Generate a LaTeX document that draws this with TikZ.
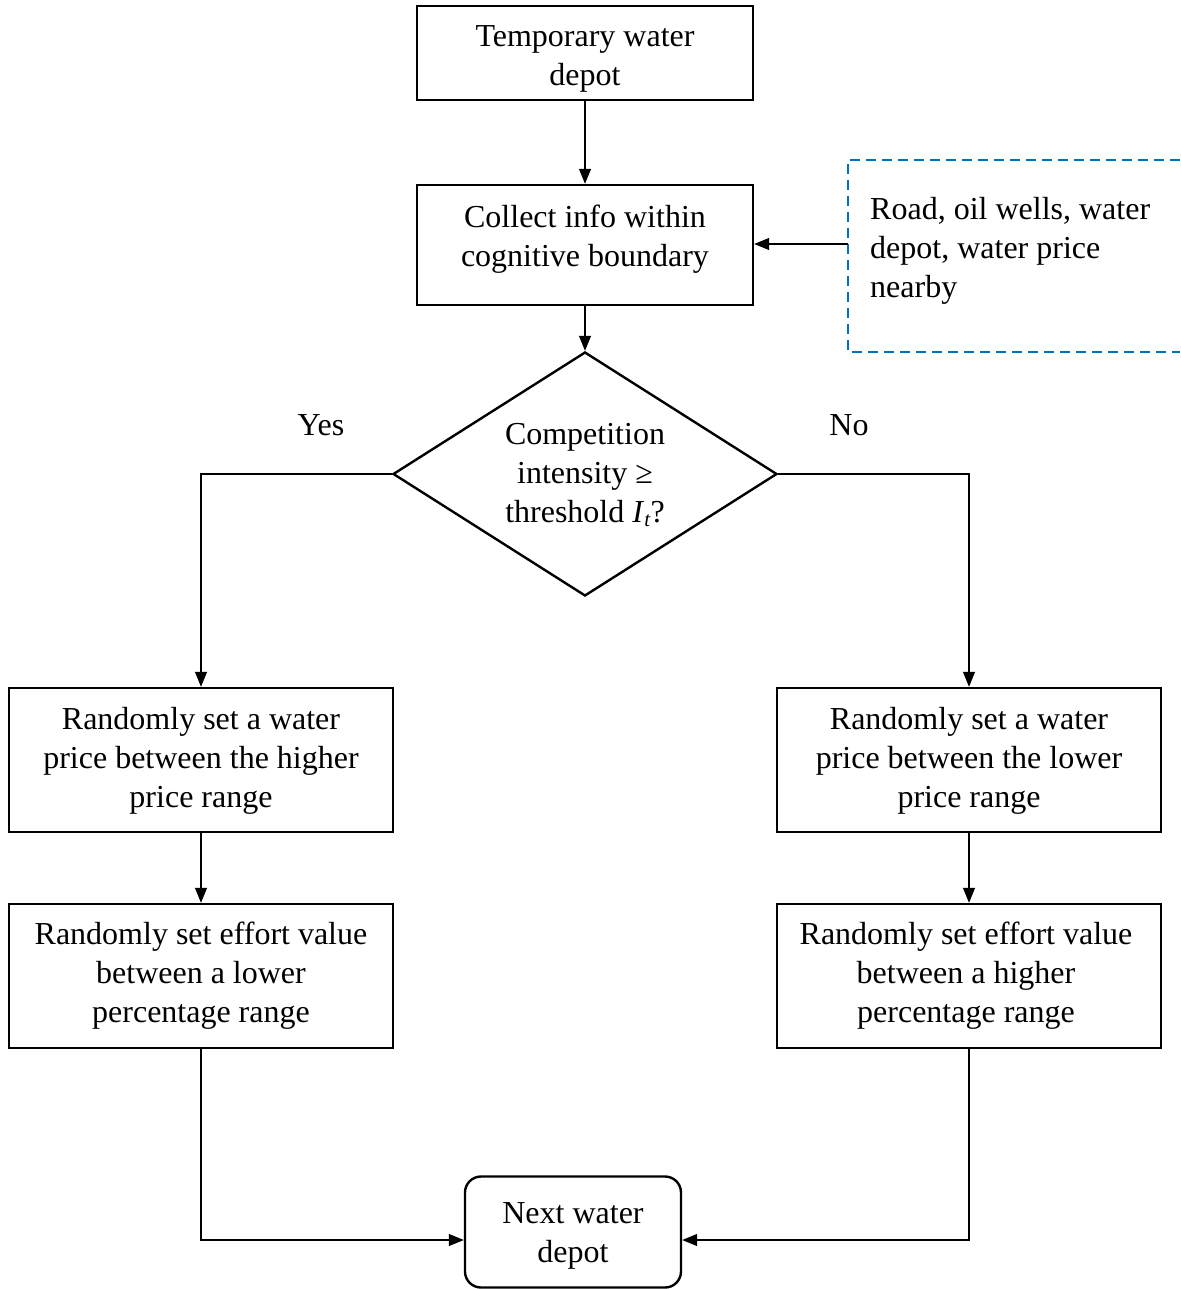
\documentclass[tikz,border=0pt]{standalone}
\usepackage{fontspec}
\setmainfont{Liberation Serif}
\usetikzlibrary{arrows.meta,shapes.geometric}
\definecolor{infoblue}{RGB}{0,112,192}
\begin{document}
\begin{tikzpicture}[x=1pt,y=-1pt,
  font=\fontsize{32}{39}\selectfont,
  box/.style={draw,line width=2.4pt,inner sep=0pt},
  topbox/.style={box,minimum width=336pt},
  sidebox/.style={box,minimum width=384pt,minimum height=144pt},
  txt/.style={align=center,inner sep=0pt},
  conn/.style={line width=1.1pt,-{Triangle[length=15pt,width=12pt]}}
]
\useasboundingbox (0,0) rectangle (1180,1289);

% main column: frames, then their texts
\node[topbox,minimum height=94pt] (b1) at (585,53) {};
\node[txt] (b1t) at (585,59) {Temporary water\\depot};
\node[topbox,minimum height=120pt] (b2) at (585,245) {};
\node[txt] (b2t) at (585,239) {Collect info within\\cognitive boundary};
\node[draw,diamond,line width=2.4pt,inner sep=0pt,aspect=1.574,
      minimum width=384pt,minimum height=244pt] (dec) at (585,474) {};
\node[txt] (dect) at (585,475)
  {Competition\\intensity ≥\\threshold \textit{I}\raisebox{-0.3ex}{\fontsize{21}{21}\selectfont\textit{t}}?};

% information box (open to the right)
\draw[infoblue,line width=2.4pt,dash pattern=on 10pt off 6pt]
  (1180,160) -- (848,160) -- (848,352) -- (1180,352);
\node[anchor=north west,align=left,inner sep=0pt] (info) at (870,197)
  {Road, oil wells, water\\depot, water price\\nearby};
\coordinate (infoedge) at (848,244);

% branches
\node[sidebox] (l1) at (201,760) {};
\node[txt] (l1t) at (201,761) {Randomly set a water\\price between the higher\\price range};
\node[sidebox] (l2) at (201,976) {};
\node[txt] (l2t) at (201,976) {Randomly set effort value\\between a lower\\percentage range};
\node[sidebox] (r1) at (969,760) {};
\node[txt] (r1t) at (969,761) {Randomly set a water\\price between the lower\\price range};
\node[sidebox] (r2) at (969,976) {};
\node[txt] (r2t) at (966,976) {Randomly set effort value\\between a higher\\percentage range};

\node[box,rounded corners=16pt,minimum width=216pt,minimum height=111pt] (next) at (573,1232) {};
\node[txt] (nextt) at (573,1236) {Next water\\depot};

\node (yes) at (321,425) {Yes};
\node (no) at (849,425) {No};

% connectors
\draw[conn] (b1) -- (b2);
\draw[conn] (b2) -- (dec);
\draw[conn] (infoedge) -- (infoedge -| b2.east);
\draw[conn] (dec.west) -| (l1.north);
\draw[conn] (dec.east) -| (r1.north);
\draw[conn] (l1) -- (l2);
\draw[conn] (r1) -- (r2);
\draw[conn] (l2.south) |- ([yshift=-8pt]next.west);
\draw[conn] (r2.south) |- ([yshift=-8pt]next.east);
\end{tikzpicture}
\end{document}
